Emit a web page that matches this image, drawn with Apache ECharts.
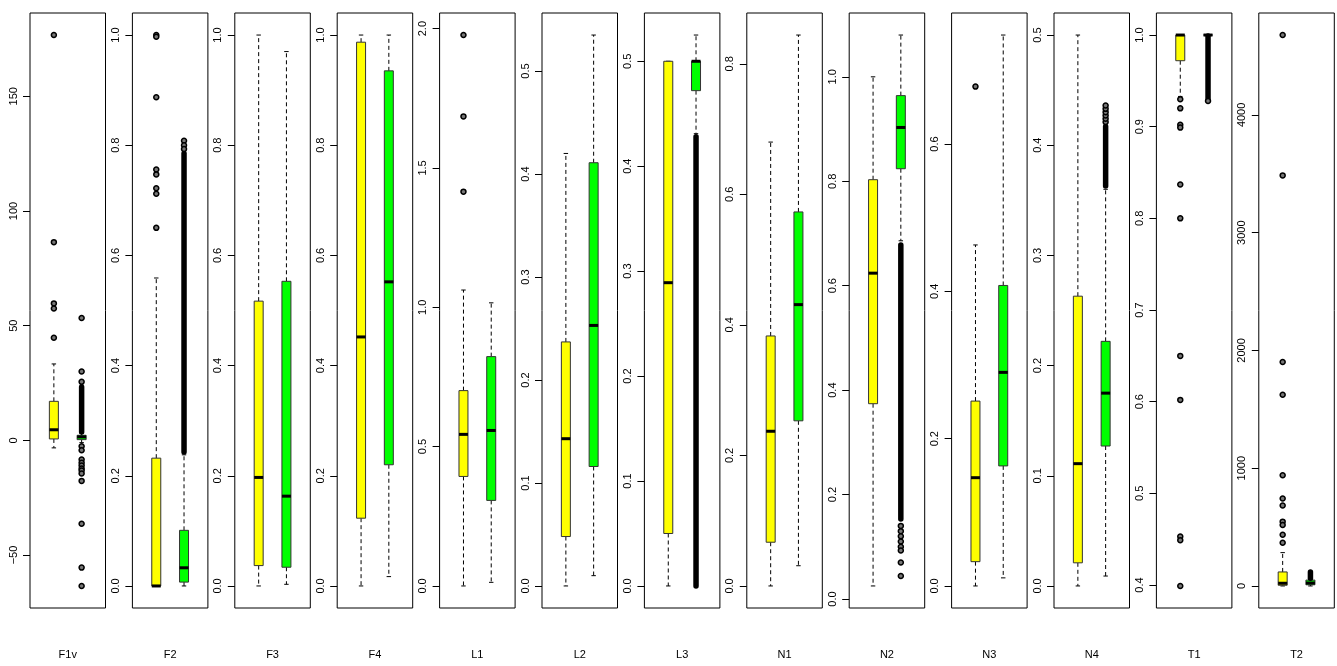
<!DOCTYPE html>
<html>
<head>
<meta charset="UTF-8">
<title>boxplots</title>
<style>
  body {margin: 0; background: #fff;}
  #chart {width: 1337px; height: 666px;}
</style>
</head>
<body>
<div id="chart"></div>
<script src="https://cdn.jsdelivr.net/npm/echarts@6/dist/echarts.min.js"></script>
<script>
// panel names (x labels)
const panelNames = ['F1v', 'F2', 'F3', 'F4', 'L1', 'L2', 'L3', 'N1', 'N2', 'N3', 'N4', 'T1', 'T2'];

// tick labels for each panel
const tickValues = [
    [-50, 0, 50, 100, 150],
    [0, 0.2, 0.4, 0.6, 0.8, 1.0],
    [0, 0.2, 0.4, 0.6, 0.8, 1.0],
    [0, 0.2, 0.4, 0.6, 0.8, 1.0],
    [0, 0.5, 1.0, 1.5, 2.0],
    [0, 0.1, 0.2, 0.3, 0.4, 0.5],
    [0, 0.1, 0.2, 0.3, 0.4, 0.5],
    [0, 0.2, 0.4, 0.6, 0.8],
    [0, 0.2, 0.4, 0.6, 0.8, 1.0],
    [0, 0.2, 0.4, 0.6],
    [0, 0.1, 0.2, 0.3, 0.4, 0.5],
    [0.4, 0.5, 0.6, 0.7, 0.8, 0.9, 1.0],
    [0, 1000, 2000, 3000, 4000]
];

// box stats [lower whisker, q1, median, q3, upper whisker]
const yellowStats = [
    [-3.3, 0.6, 4.6, 17, 33.3],
    [0, 0, 0, 0.232, 0.559],
    [0, 0.037, 0.197, 0.517, 1.0],
    [0, 0.123, 0.452, 0.987, 1.0],
    [0, 0.393, 0.544, 0.701, 1.062],
    [0, 0.048, 0.143, 0.237, 0.42],
    [0, 0.05, 0.289, 0.5, 0.5],
    [0, 0.067, 0.237, 0.383, 0.68],
    [0.025, 0.374, 0.624, 0.803, 1.0],
    [0, 0.033, 0.147, 0.251, 0.463],
    [0, 0.021, 0.111, 0.263, 0.5],
    [0.933, 0.972, 1.0, 1.0, 1.0],
    [0, 6, 23, 119, 283]
];
const greenStats = [
    [-1.0, 0.3, 1.5, 2.2, 3.2],
    [0, 0.007, 0.033, 0.101, 0.238],
    [0.003, 0.034, 0.163, 0.553, 0.970],
    [0.017, 0.22, 0.552, 0.935, 1.0],
    [0.013, 0.307, 0.558, 0.823, 1.016],
    [0.01, 0.116, 0.253, 0.411, 0.535],
    [0.431, 0.472, 0.5, 0.5, 0.525],
    [0.031, 0.253, 0.431, 0.573, 0.844],
    [0.686, 0.824, 0.903, 0.964, 1.08],
    [0.011, 0.163, 0.29, 0.408, 0.748],
    [0.009, 0.127, 0.175, 0.222, 0.36],
    [1.0, 1.0, 1.0, 1.0, 1.0],
    [0, 10, 25, 50, 60]
];

// single outliers
const yellowOut = [
    [176.7, 86.4, 59.7, 57.5, 44.7],
    [1.0, 0.997, 0.887, 0.756, 0.747, 0.722, 0.712, 0.65],
    [], [],
    [1.977, 1.685, 1.415],
    [], [], [], [],
    [0.678],
    [],
    [0.93, 0.92, 0.902, 0.899, 0.837, 0.80, 0.65, 0.602, 0.453, 0.449, 0.399],
    [4678, 3486, 1902, 1624, 940, 743, 683, 546, 517, 435, 367]
];
const greenOut = [
    [53.3, 30, 25.5, -2.6, -4.3, -8.4, -9.8, -11, -12.3, -13.2, -14.5, -17.7, -36.4, -55.5, -63.5],
    [0.808, 0.80, 0.793],
    [], [], [], [], [], [],
    [0.14, 0.13, 0.12, 0.11, 0.10, 0.093, 0.07, 0.044],
    [],
    [0.421, 0.424, 0.427, 0.430, 0.433, 0.436],
    [0.928],
    []
];

// runs of outliers so dense they merge into a solid bar [from, to]
const greenBand = [
    [3.6, 23.2],
    [0.243, 0.785],
    null, null, null, null,
    [0.0, 0.428],
    null,
    [0.153, 0.678],
    null,
    [0.363, 0.417],
    [0.929, 0.999],
    [65, 118]
];

const chart = echarts.init(document.getElementById('chart'));

const grids = [], xAxes = [], yAxes = [], series = [];
const boxHalf = 0.162, capHalf = 0.08;

function boxItem(p, api) {
    const x = api.value(0);
    const lo = api.value(1), q1 = api.value(2), md = api.value(3), q3 = api.value(4), hi = api.value(5);
    const color = api.value(6) === 0 ? '#ffff00' : '#00ff00';
    const hw = api.size([boxHalf, 0])[0];
    const cw = api.size([capHalf, 0])[0];
    const pt = v => api.coord([x, v]);
    const kids = [];
    const dashed = {stroke: '#000', lineWidth: 1, lineDash: [4, 3]};
    const solid = {stroke: '#000', lineWidth: 1};
    [[q3, hi], [q1, lo]].forEach(function (w) {
        const a = pt(w[0]), b = pt(w[1]);
        if (Math.abs(a[1] - b[1]) > 0.5) {
            kids.push({type: 'line', shape: {x1: a[0], y1: a[1], x2: b[0], y2: b[1]}, style: dashed});
        }
        kids.push({type: 'line', shape: {x1: b[0] - cw, y1: b[1], x2: b[0] + cw, y2: b[1]}, style: solid});
    });
    const t = pt(q3), b = pt(q1), m = pt(md);
    kids.push({type: 'rect', shape: {x: t[0] - hw, y: t[1], width: hw * 2, height: Math.max(b[1] - t[1], 0)},
        style: {fill: color, stroke: '#333', lineWidth: 1}});
    kids.push({type: 'line', shape: {x1: m[0] - hw, y1: m[1], x2: m[0] + hw, y2: m[1]}, style: {stroke: '#000', lineWidth: 3}});
    return {type: 'group', children: kids};
}

function bandItem(p, api) {
    const a = api.coord([api.value(0), api.value(1)]);
    const b = api.coord([api.value(0), api.value(2)]);
    return {type: 'line', shape: {x1: a[0], y1: a[1], x2: b[0], y2: b[1]},
        style: {stroke: '#000', lineWidth: 5.5, lineCap: 'round'}};
}

panelNames.forEach(function (name, i) {
    // data range of the panel, extended 4% like R
    let all = yellowStats[i].concat(greenStats[i], yellowOut[i], greenOut[i]);
    if (greenBand[i]) all = all.concat(greenBand[i]);
    const mn = Math.min.apply(null, all), mx = Math.max.apply(null, all);
    const pad = (mx - mn) * 0.04;

    grids.push({left: 30 + 102.4 * i, top: 13, width: 75.5, height: 595,
        show: true, borderColor: '#000', borderWidth: 1, backgroundColor: 'transparent'});

    xAxes.push({gridIndex: i, type: 'value', min: 0.14, max: 2.86,
        name: name, nameLocation: 'middle', nameGap: 41,
        nameTextStyle: {fontFamily: 'Liberation Sans', fontSize: 11, color: '#000'},
        axisLine: {show: false}, axisTick: {show: false}, axisLabel: {show: false}, splitLine: {show: false}});

    yAxes.push({gridIndex: i, type: 'value', min: mn - pad, max: mx + pad,
        axisLine: {show: false},
        axisTick: {show: true, length: 7, customValues: tickValues[i], lineStyle: {color: '#000', width: 1}},
        axisLabel: {show: true, customValues: tickValues[i], rotate: 90, margin: 11,
            fontFamily: 'Liberation Sans', fontSize: 11, color: '#000',
            formatter: v => (tickValues[i][tickValues[i].length - 1] >= 10 ? String(v) : v.toFixed(1)).replace('-', '\u2212')},
        splitLine: {show: false}});

    series.push({type: 'custom', xAxisIndex: i, yAxisIndex: i, renderItem: boxItem, z: 2,
        data: [[1].concat(yellowStats[i], [0]), [2].concat(greenStats[i], [1])]});

    if (greenBand[i]) {
        series.push({type: 'custom', xAxisIndex: i, yAxisIndex: i, renderItem: bandItem, z: 3,
            data: [[2, greenBand[i][0], greenBand[i][1]]]});
    }

    series.push({type: 'scatter', xAxisIndex: i, yAxisIndex: i, z: 4,
        symbol: 'circle', symbolSize: 5, silent: true,
        itemStyle: {color: '#777', borderColor: '#000', borderWidth: 1.5, opacity: 1},
        data: yellowOut[i].map(v => [1, v]).concat(greenOut[i].map(v => [2, v]))});
});

chart.setOption({
    animation: false,
    grid: grids,
    xAxis: xAxes,
    yAxis: yAxes,
    series: series
});
</script>
</body>
</html>
